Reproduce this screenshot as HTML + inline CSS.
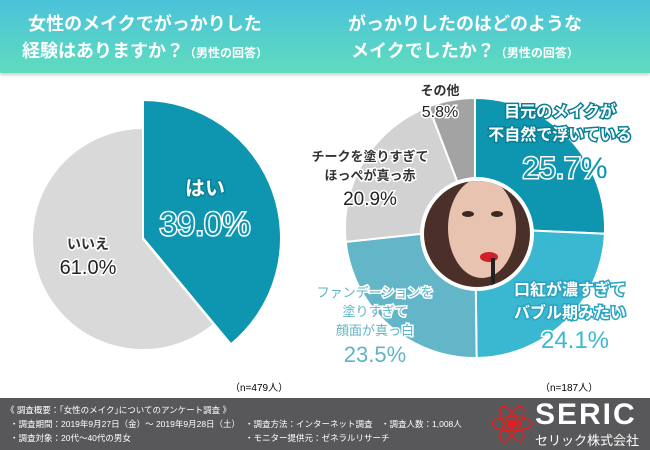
<!DOCTYPE html>
<html><head><meta charset="utf-8"><style>
body{margin:0;width:650px;height:450px;overflow:hidden;background:#fff;font-family:"Liberation Sans","Noto Sans CJK JP",sans-serif}
.hdr{position:absolute;left:0;top:0;width:650px;height:73px;background:linear-gradient(#4bc2da,#5fdcbe);box-shadow:0 2px 3px #ccc}
.t{position:absolute;color:#fff;font-weight:bold;font-size:18px;line-height:27px;text-align:center;white-space:nowrap}
.t small{font-size:12px}
.ftr{position:absolute;left:0;top:398px;width:650px;height:52px;background:#58585a;color:#fff;font-size:8.5px;white-space:nowrap}
.ftr div{white-space:nowrap}
</style></head><body>
<div class="hdr">
<div class="t" style="left:0px;top:11px;width:290px">女性のメイクでがっかりした<br>経験はありますか？<small>（男性の回答）</small></div>
<div class="t" style="left:290px;top:11px;width:350px">がっかりしたのはどのような<br>メイクでしたか？<small>（男性の回答）</small></div>
</div>
<svg id="chart" width="650" height="450" style="position:absolute;left:0;top:0"></svg>
<div style="position:absolute;left:230px;top:379px;font-size:10px">（n=479人）</div>
<div style="position:absolute;left:540px;top:379px;font-size:10px">（n=187人）</div>
<div class="ftr">
<div style="position:absolute;left:6px;top:6px">《 調査概要：｢女性のメイク｣についてのアンケート調査 》</div>
<div style="position:absolute;left:10px;top:20px">・調査期間：2019年9月27日（金）～ 2019年9月28日（土）</div>
<div style="position:absolute;left:10px;top:34px">・調査対象：20代～40代の男女</div>
<div style="position:absolute;left:245px;top:20px">・調査方法：インターネット調査　・調査人数：1,008人</div>
<div style="position:absolute;left:245px;top:34px">・モニター提供元：ゼネラルリサーチ</div>
<svg style="position:absolute;left:490px;top:4px" width="44" height="44"><g fill="none" stroke="#e02020" stroke-width="1.5"><ellipse cx="22" cy="22" rx="20" ry="7"/><ellipse cx="22" cy="22" rx="20" ry="7" transform="rotate(60 22 22)"/><ellipse cx="22" cy="22" rx="20" ry="7" transform="rotate(-60 22 22)"/></g><circle cx="22" cy="22" r="5" fill="#e02020"/></svg>
<div style="position:absolute;left:535px;top:0px;font-size:30px;font-weight:bold;letter-spacing:2px">SERIC</div>
<div style="position:absolute;left:535px;top:32px;font-size:13px">セリック株式会社</div>
</div>
<script>
const leftCats=["はい","いいえ"];
const leftVals=[39.0,61.0];
const rightCats=["目元のメイクが不自然で浮いている","口紅が濃すぎてバブル期みたい","ファンデーションを塗りすぎて顔面が真っ白","チークを塗りすぎてほっぺが真っ赤","その他"];
const rightVals=[25.7,24.1,23.5,20.9,5.8];
const svg=document.getElementById('chart');
const NS='http://www.w3.org/2000/svg';
function pt(cx,cy,r,a){const t=a/100*2*Math.PI;return [cx+r*Math.sin(t),cy-r*Math.cos(t)];}
function slice(cx,cy,r,a0,a1,fill,name){
 const p=document.createElementNS(NS,'path');
 const s=pt(cx,cy,r,a0),e=pt(cx,cy,r,a1);
 p.setAttribute('d',`M${cx},${cy}L${s[0]},${s[1]}A${r},${r} 0 ${a1-a0>50?1:0} 1 ${e[0]},${e[1]}Z`);
 p.setAttribute('fill',fill);p.setAttribute('stroke','#fff');p.setAttribute('stroke-width','2');
 
 
 svg.appendChild(p);}
function txt(x,y,s,size,fill,stroke,name,w){
 const t=document.createElementNS(NS,'text');
 t.setAttribute('x',x);t.setAttribute('y',y);t.setAttribute('font-size',size);t.setAttribute('font-weight',w||'bold');
 t.setAttribute('text-anchor','middle');t.setAttribute('fill',fill);
 if(stroke){t.setAttribute('stroke',stroke);t.setAttribute('stroke-width','3');t.setAttribute('paint-order','stroke');}
 t.textContent=s;
 
 
 svg.appendChild(t);}
slice(143,239,111,leftVals[0],100,'#d9d9d9','slice-no');
slice(143,238,138,0,leftVals[0],'#0e96b0','slice-yes');
txt(205,195,leftCats[0],20,'#fff','#0a7f96','label-yes');
txt(205,235,leftVals[0].toFixed(1)+'%',32,'#0e96b0','#fff','value-yes','normal');
txt(88,249,leftCats[1],14,'#333','#fff','label-no');
txt(88,274,leftVals[1].toFixed(1)+'%',20,'#222','#fff','value-no','normal');
const rc=['#0e96b0','#3ab8d2','#62b6c8','#d2d2d2','#a3a3a3'];
const rn=['slice-eye','slice-lipstick','slice-foundation','slice-cheek','slice-other'];
let acc=0;
rightVals.forEach((v,i)=>{slice(475,228,130,acc,acc+v,rc[i],rn[i]);acc+=v;});
const hole=document.createElementNS(NS,'circle');
hole.setAttribute('cx',477);hole.setAttribute('cy',234);hole.setAttribute('r',57);hole.setAttribute('fill','#fff');


svg.appendChild(hole);
const ph=document.createElementNS(NS,'g');


ph.innerHTML='<clipPath id="cp"><circle cx="477" cy="234" r="53"/></clipPath><g clip-path="url(#cp)"><rect x="420" y="180" width="115" height="110" fill="#4a3028"/><ellipse cx="482" cy="228" rx="34" ry="50" fill="#e8c4b0"/><ellipse cx="468" cy="214" rx="6" ry="3" fill="#3a2a22"/><ellipse cx="497" cy="214" rx="6" ry="3" fill="#3a2a22"/><ellipse cx="489" cy="257" rx="9" ry="5" fill="#d0202a"/><rect x="491" y="258" width="4" height="30" fill="#222"/></g>';
svg.appendChild(ph);
txt(560,117,'目元のメイクが',16,'#fff','#0a7f96','label-eye');
txt(560,140,'不自然で浮いている',16,'#fff','#0a7f96','label-eye-2');
txt(565,178,rightVals[0].toFixed(1)+'%',30,'#0e96b0','#fff','value-eye','normal');
txt(570,295,'口紅が濃すぎて',16,'#fff','#2aa4c0','label-lipstick');
txt(570,318,'バブル期みたい',16,'#fff','#2aa4c0','label-lipstick-2');
txt(575,348,rightVals[1].toFixed(1)+'%',24,'#3ab8d2','#fff','value-lipstick','normal');
txt(375,297,'ファンデーションを',13,'#5fb4c6','#fff','label-foundation','normal');
txt(375,316,'塗りすぎて',13,'#5fb4c6','#fff','label-foundation-2','normal');
txt(375,335,'顔面が真っ白',13,'#5fb4c6','#fff','label-foundation-3','normal');
txt(375,362,rightVals[2].toFixed(1)+'%',22,'#5fb4c6','#fff','value-foundation','normal');
txt(370,161,'チークを塗りすぎて',13,'#333','#fff','label-cheek');
txt(370,180,'ほっぺが真っ赤',13,'#333','#fff','label-cheek-2');
txt(370,205,rightVals[3].toFixed(1)+'%',19,'#222','#fff','value-cheek','normal');
txt(440,95,'その他',13,'#333','#fff','label-other');
txt(440,117,rightVals[4].toFixed(1)+'%',16,'#222','#fff','value-other','normal');
</script>
</body></html>
